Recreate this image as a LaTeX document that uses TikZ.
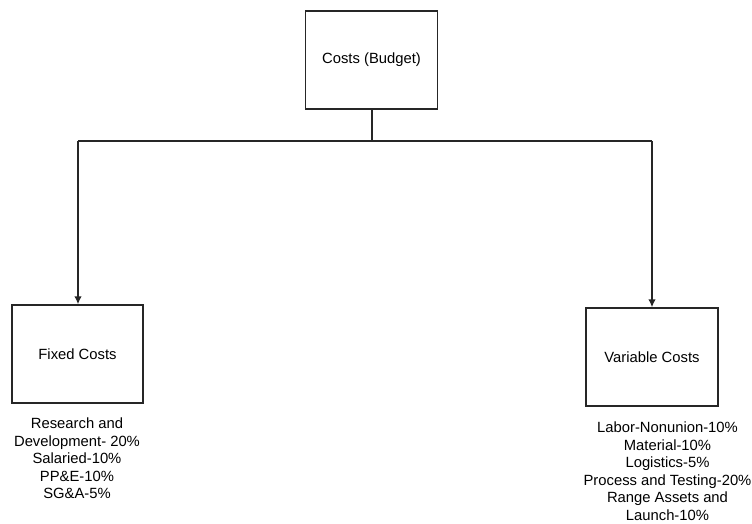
\documentclass[tikz,border=0pt]{standalone}
\usepackage{fontspec}
\setmainfont{Liberation Sans}
\usetikzlibrary{arrows.meta}
\begin{document}
\begin{tikzpicture}[x=1pt,y=-1pt,
  box/.style={draw=black!85, line width=1.4pt, minimum width=132pt, minimum height=98pt,
    inner sep=0pt, font=\fontsize{14.8}{17.5}\selectfont},
  note/.style={align=center, inner sep=0pt, font=\fontsize{14.8}{17.5}\selectfont},
  link/.style={draw=black!85, line width=1.4pt},
  tip/.style={-{Latex[length=8pt,width=7.5pt]}}]
  \useasboundingbox (0,0) rectangle (752,523);
  % boxes
  \node[box] (top) at (371.5,60) {Costs (Budget)};
  \node[box, minimum width=131pt] (fixed) at (77.5,354) {Fixed Costs};
  \node[box, minimum width=132pt] (var) at (652,357) {Variable Costs};
  % branch points of the tree
  \coordinate (hub) at (372,141);
  \coordinate (lc) at (78,141);
  \coordinate (rc) at (652,141);
  % connectors
  \draw[link] (top.south -| hub) -- (hub);
  \draw[link] (lc) -- (rc);
  \draw[link, tip] (lc) -- (fixed.north -| lc);
  \draw[link, tip] (rc) -- (var.north -| rc);
  % cost breakdowns
  \node[note, anchor=north] (fixednote) at (77,418)
    {Research and\\Development- 20\%\\Salaried-10\%\\PP\&E-10\%\\SG\&A-5\%};
  \node[note, anchor=north] (varnote) at (667.5,422)
    {Labor-Nonunion-10\%\\Material-10\%\\Logistics-5\%\\Process and Testing-20\%\\Range Assets and\\Launch-10\%};
\end{tikzpicture}
\end{document}
